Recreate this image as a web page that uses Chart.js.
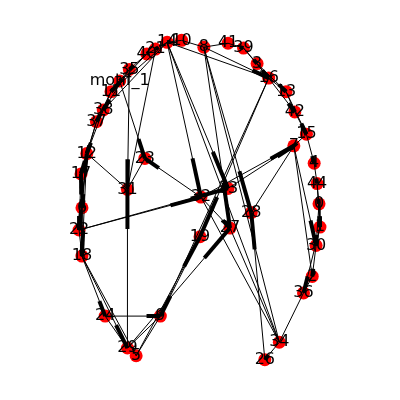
<!DOCTYPE html>
<html><head><meta charset="utf-8">
<script src="https://cdn.jsdelivr.net/npm/chart.js@4.4.0/dist/chart.umd.min.js"></script>
<style>html,body{margin:0;padding:0;background:#fff}</style>
</head><body>
<canvas id="c" width="400" height="400"></canvas>
<script>
const nodeNames = ["10","14","21","40","35","motif_1","11","38","37","12","17","6","22","18","31","23","24","9","29","5","32","33","28","27","19","8","41","39","3","16","13","42","15","7","4","44","0","1","30","2","36","34","26"];
const nodeX = [181,166,154,145,127,117,108,100,93,83,77,78,75,78,125,143,102,159,125,134,201,229,253,231,200,204,229,245,259,271,289,298,310,297,318,321,323,324,320,316,307,282,267];
const nodeY = [35,37,44,49,65,77,88,107,119,152,173,208,231,258,189,157,320,320,353,361,197,188,213,229,238,42,38,43,59,74,88,109,132,144,162,183,204,228,247,279,296,347,365];
// directed edges (drawn with a thick bar near the target)
const arrowFrom = ["10","14","21","40","35","motif_1","11","38","37","12","17","6","22","40","35","11","38","37","12","17","6","12","22","12","18",
 "41","39","3","16","13","42","15","15","4","44","0","1","30","39","3","16","13","7","44","0","1",
 "14","14","8","8","16","35","29","motif_1","32","22","22","32","33",
 "18","18","24","5","29","19","32","26","34","8"];
const arrowTo = ["14","21","40","35","motif_1","11","38","37","12","17","6","22","18","11","38","37","12","17","6","22","18","18","12","22","17",
 "39","3","16","13","42","15","7","4","44","0","1","30","2","16","13","42","15","30","1","30","36",
 "32","33","28","16","19","31","31","23","23","32","33","7","7",
 "24","29","9","19","27","9","27","28","26","27"];
// plain edges (thin only)
const lineFrom = ["14","8","32","34","12","31","10","8","14","11","38","9","9","24","18","27","7","21","16","7","2"];
const lineTo   = ["34","34","34","36","31","23","8","41","16","14","14","29","5","29","5","34","2","31","9","28","36"];
const idx = n => nodeNames.indexOf(n);
const datasets = [];
const thin = (a,b) => datasets.push({type:'line', data:[{x:nodeX[a],y:nodeY[a]},{x:nodeX[b],y:nodeY[b]}], borderColor:'#000', borderWidth:1, pointRadius:0, fill:false});
for (let i = 0; i < lineFrom.length; i++) thin(idx(lineFrom[i]), idx(lineTo[i]));
for (let i = 0; i < arrowFrom.length; i++) thin(idx(arrowFrom[i]), idx(arrowTo[i]));
for (let i = 0; i < arrowFrom.length; i++) {
  const a = idx(arrowFrom[i]), b = idx(arrowTo[i]);
  const p = 0.75;
  const xa = nodeX[a] + p*(nodeX[b]-nodeX[a]), ya = nodeY[a] + p*(nodeY[b]-nodeY[a]);
  datasets.push({type:'line', data:[{x:xa,y:ya},{x:nodeX[b],y:nodeY[b]}], borderColor:'#000', borderWidth:4, borderCapStyle:'butt', pointRadius:0, fill:false});
}
datasets.push({type:'scatter', data: nodeNames.map((n,i)=>({x:nodeX[i],y:nodeY[i]})), backgroundColor:'#ff0000', borderColor:'#ff0000', pointRadius:6.5, pointBorderWidth:0});
const labelPlugin = {
  id:'labels',
  afterDatasetsDraw(chart){
    const ctx = chart.ctx, xs = chart.scales.x, ys = chart.scales.y;
    ctx.save();
    ctx.fillStyle = '#000';
    ctx.font = '16px "DejaVu Sans"';
    ctx.textAlign = 'center'; ctx.textBaseline = 'middle';
    nodeNames.forEach((n,i)=>{ ctx.fillText(n, xs.getPixelForValue(nodeX[i]), ys.getPixelForValue(nodeY[i])); });
    ctx.restore();
  }
};
new Chart(document.getElementById('c'), {
  type:'scatter',
  data:{datasets},
  options:{
    responsive:false, animation:false, devicePixelRatio:1,
    layout:{padding:0},
    plugins:{legend:{display:false}, tooltip:{enabled:false}},
    scales:{
      x:{type:'linear', min:0, max:400, display:false},
      y:{type:'linear', min:0, max:400, reverse:true, display:false}
    }
  },
  plugins:[labelPlugin]
});
</script>
</body></html>
